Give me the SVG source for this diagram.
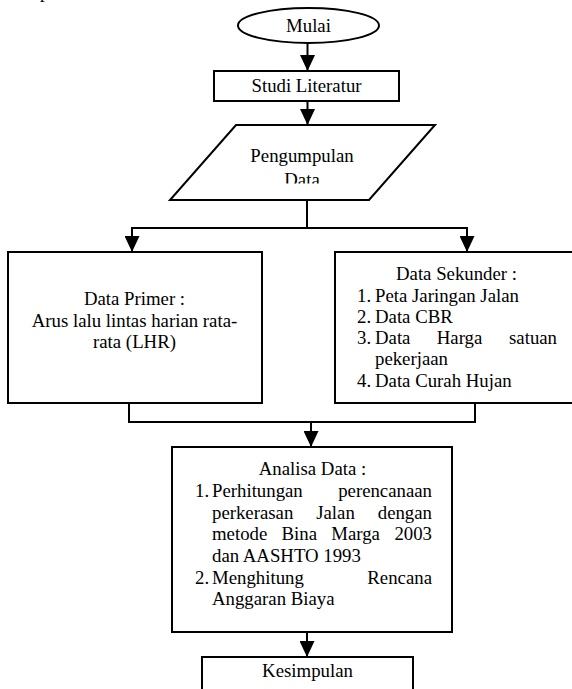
<svg xmlns="http://www.w3.org/2000/svg" width="572" height="689" viewBox="0 0 572 689">
<style>
  .shape { fill: #fff; stroke: #000; stroke-width: 2; }
  .conn { fill: none; stroke: #000; stroke-width: 2; }
  text { font-family: "Liberation Serif", "Times New Roman", serif; font-size: 18.8px; fill: #000; }
  .c { text-anchor: middle; }
  .e { text-anchor: end; }
</style>
<defs>
  <marker id="arr" markerUnits="userSpaceOnUse" markerWidth="16" markerHeight="15" refX="16" refY="7.5" orient="auto">
    <path d="M0,0 L16,7.5 L0,15 Z" fill="#000"/>
  </marker>
  <clipPath id="clipPeng"><rect x="150" y="125" width="300" height="58.5"/></clipPath>
</defs>
<rect width="572" height="689" fill="#fff"/>
<text x="40" y="-2">p</text>

<g id="connectors">
  <path class="conn" d="M307.5,43 V71" marker-end="url(#arr)"/>
  <path class="conn" d="M307.5,101 V125" marker-end="url(#arr)"/>
  <path class="conn" d="M307,200 V228"/>
  <path class="conn" d="M131,228 H468"/>
  <path class="conn" d="M132,228 V252" marker-end="url(#arr)"/>
  <path class="conn" d="M467,228 V252" marker-end="url(#arr)"/>
  <path class="conn" d="M129,403 V422 H475 V403"/>
  <path class="conn" d="M311,422 V447" marker-end="url(#arr)"/>
  <path class="conn" d="M307,632 V657" marker-end="url(#arr)"/>
</g>

<g id="mulai">
  <ellipse class="shape" cx="308.5" cy="25.5" rx="70.5" ry="17.5"/>
  <text class="c" x="308.5" y="32">Mulai</text>
</g>

<g id="studi-literatur">
  <rect class="shape" x="214" y="71" width="185" height="30"/>
  <text class="c" x="306.5" y="92">Studi Literatur</text>
</g>

<g id="pengumpulan-data">
  <polygon class="shape" points="236,125 435,125 369,200 170,200"/>
  <g clip-path="url(#clipPeng)">
    <text class="c" x="302" y="162">Pengumpulan</text>
    <text class="c" x="302" y="185.5">Data</text>
  </g>
</g>

<g id="data-primer">
  <rect class="shape" x="8" y="252" width="254" height="151"/>
  <text class="c" x="134.5" y="305">Data Primer :</text>
  <text class="c" x="134.5" y="326.5">Arus lalu lintas harian rata-</text>
  <text class="c" x="134.5" y="348">rata (LHR)</text>
</g>

<g id="data-sekunder">
  <rect class="shape" x="335" y="252" width="243" height="151"/>
  <text class="c" x="456.5" y="280">Data Sekunder :</text>
  <text x="357" y="302">1.</text><text x="375" y="302">Peta Jaringan Jalan</text>
  <text x="357" y="323">2.</text><text x="375" y="323">Data CBR</text>
  <text x="357" y="344">3.</text><text x="375" y="344">Data</text><text x="436.8" y="344">Harga</text><text class="e" x="557" y="344">satuan</text>
  <text x="375" y="365">pekerjaan</text>
  <text x="357" y="387">4.</text><text x="375" y="387">Data Curah Hujan</text>
</g>

<g id="analisa-data">
  <rect class="shape" x="172" y="447" width="280" height="185"/>
  <text class="c" x="312.5" y="475">Analisa Data :</text>
  <text x="195" y="497">1.</text><text x="212" y="497">Perhitungan</text><text class="e" x="432" y="497">perencanaan</text>
  <text x="212" y="518.5">perkerasan</text><text x="316.2" y="518.5">Jalan</text><text class="e" x="432" y="518.5">dengan</text>
  <text x="212" y="540">metode</text><text x="281.5" y="540">Bina</text><text x="331.2" y="540">Marga</text><text class="e" x="432" y="540">2003</text>
  <text x="212" y="562">dan AASHTO 1993</text>
  <text x="195" y="583.5">2.</text><text x="212" y="583.5">Menghitung</text><text class="e" x="432" y="583.5">Rencana</text>
  <text x="212" y="605">Anggaran Biaya</text>
</g>

<g id="kesimpulan">
  <rect class="shape" x="202" y="657" width="211" height="50"/>
  <text class="c" x="307.5" y="677">Kesimpulan</text>
</g>
</svg>
